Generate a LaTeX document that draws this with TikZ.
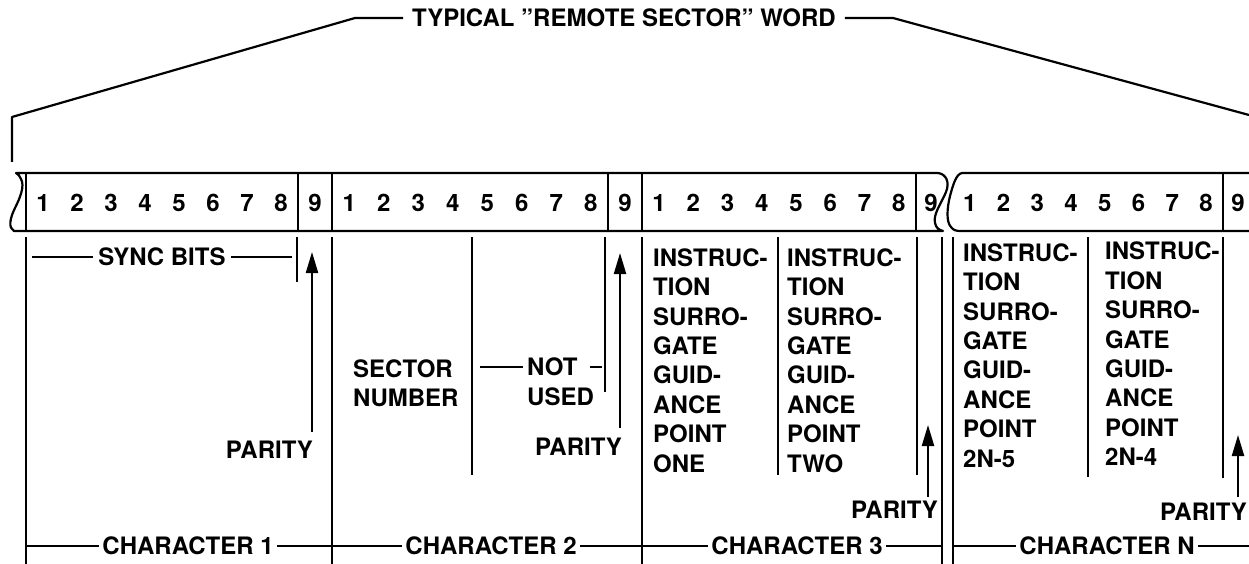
\documentclass[tikz,border=0pt]{standalone}
\usepackage{fontspec}
\setmainfont{TeX Gyre Heros}
\usetikzlibrary{arrows.meta}
\tikzset{
  ln/.style={line width=2.2pt, line join=round},
  lbl/.style={font=\fontsize{24}{29.4}\selectfont\bfseries, inner sep=0pt},
  bar/.style={lbl, fill=white, inner xsep=3pt, inner ysep=2pt},
  col/.style={lbl, align=left, anchor=north west},
  par/.style={ln, -{Triangle[length=21pt,width=12pt]}},
}
\begin{document}
\begin{tikzpicture}[x=1pt,y=-1pt]
\useasboundingbox (0,0) rectangle (1249,564);
% ---- title brace
\node[lbl, inner xsep=9pt] (title) at (624,18) {TYPICAL ''REMOTE SECTOR'' WORD};
\coordinate (bl) at (12,162); \coordinate (bk) at (12,117); \coordinate (tl) at (355,18);
\coordinate (tr) at (893,18); \coordinate (br) at (1249,115);
\draw[ln] (bl) -- (bk) -- (tl) -- (title.west);
\draw[ln] (title.east) -- (tr) -- (br);
% ---- strip, characters 1 to 3
\draw[ln] (16,173) -- (938,173) .. controls (946,174) and (950,182) .. (946,192)
  .. controls (941,204) and (933,214) .. (935,223) .. controls (936,228) and (939,230) .. (943,231)
  -- (14,231) .. controls (8,228) and (10,218) .. (15,208) .. controls (20,198) and (25,186) .. (21,179)
  .. controls (20,176) and (18,174) .. (16,173) -- cycle;
% ---- strip, character N
\draw[ln] (1249,173) -- (962,173) .. controls (956,174) and (953,185) .. (950,196)
  .. controls (947,208) and (946,222) .. (951,227) .. controls (953,230) and (956,231) .. (960,231) -- (1249,231);
% ---- dividers in the strip
\foreach \x in {26,298,332,608,642,916,1223}
  \draw[ln] (\x,173) -- (\x,231);
% ---- bit numbers
\foreach \c/\L/\D/\N in {1/26/298/315, 2/332/608/625, 3/642/916/931, N/953/1223/1238}{
  \foreach \i in {1,...,8}
    \node[lbl] (c\c b\i) at ({\L+(\i-0.5)*(\D-\L)/8},203) {\i};
  \node[lbl] (c\c b9) at (\N,203) {9};
}
% ---- character boundaries below the strip
\foreach \x in {26,332,642,942,953}
  \draw[ln] (\x,237) -- (\x,564);
% ---- field dividers
\draw[ln] (297,237) -- (297,282);
\draw[ln] (472,237) -- (472,475);
\draw[ln] (605,237) -- (605,392);
\draw[ln] (778,237) -- (778,475);
\draw[ln] (917,237) -- (917,475);
\draw[ln] (1088,237) -- (1088,477);
\draw[ln] (1223,237) -- (1223,478);
% ---- sync bits
\draw[ln] (32,257) -- (292,257);
\node[bar, inner xsep=5pt] (sync) at (162,257) {SYNC BITS};
% ---- character 2 fields
\node[col] (sector) at (353,359.4) {SECTOR\\NUMBER};
\node[lbl, anchor=west] (notu) at (527,367) {NOT};
\node[lbl, anchor=west] (used) at (527,397) {USED};
\draw[ln] (480,367) -- ([xshift=-4pt]notu.west);
\draw[ln] (590,367) -- (602,367);
% ---- character 3 and N fields
\node[col] (i31) at (653,248.4) {INSTRUC-\\TION\\SURRO-\\GATE\\GUID-\\ANCE\\POINT\\ONE};
\node[col] (i32) at (787,248.4) {INSTRUC-\\TION\\SURRO-\\GATE\\GUID-\\ANCE\\POINT\\TWO};
\node[col] (iN1) at (963,243.4) {INSTRUC-\\TION\\SURRO-\\GATE\\GUID-\\ANCE\\POINT\\2N-5};
\node[col] (iN2) at (1105,242) {INSTRUC-\\TION\\SURRO-\\GATE\\GUID-\\ANCE\\POINT\\2N-4};
% ---- parity
\node[lbl, anchor=east] (p1) at (313,450) {PARITY};
\node[lbl, anchor=east] (p2) at (622,447) {PARITY};
\node[lbl, anchor=east] (p3) at (938,510) {PARITY};
\node[lbl, anchor=east] (pN) at (1247,512) {PARITY};
\coordinate (a1s) at (312,432); \coordinate (a1e) at (312,252);
\coordinate (a2s) at (620,428); \coordinate (a2e) at (620,253);
\coordinate (a3s) at (928,497); \coordinate (a3e) at (928,425);
\coordinate (aNs) at (1238,497); \coordinate (aNe) at (1238,435);
\draw[par] (a1s) -- (a1e);
\draw[par] (a2s) -- (a2e);
\draw[par] (a3s) -- (a3e);
\draw[par] (aNs) -- (aNe);
% ---- character spans
\draw[ln] (26,546) -- (332,546);
\draw[ln] (332,546) -- (642,546);
\draw[ln] (642,546) -- (942,546);
\draw[ln] (953,546) -- (1249,546);
\node[bar] (ch1) at (188,546) {CHARACTER 1};
\node[bar] (ch2) at (491,546) {CHARACTER 2};
\node[bar] (ch3) at (797,546) {CHARACTER 3};
\node[bar] (chN) at (1107,546) {CHARACTER N};
\end{tikzpicture}
\end{document}
